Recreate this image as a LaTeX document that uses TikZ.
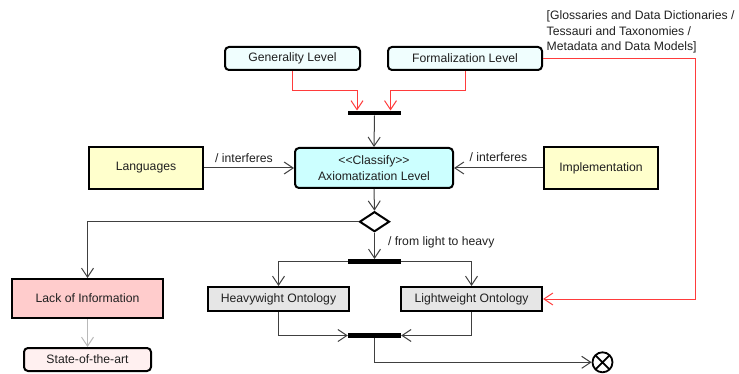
\documentclass[tikz,border=0pt]{standalone}
\usepackage{fontspec}
\setmainfont{Liberation Sans}[Ligatures=TeXOff]
\usetikzlibrary{arrows.meta,shapes.geometric}
\definecolor{txt}{HTML}{202020}
\definecolor{lnk}{HTML}{404040}
\definecolor{redl}{HTML}{FF3B3B}
\definecolor{cyanlt}{HTML}{F0FEFE}
\definecolor{cyanax}{HTML}{CCFFFF}
\definecolor{yel}{HTML}{FFFFCC}
\definecolor{pinka}{HTML}{FFCCCC}
\definecolor{pinkb}{HTML}{FFF0F0}
\definecolor{greyb}{HTML}{E6E6E6}
\begin{document}
\begin{tikzpicture}[x=1pt,y=-1pt,
  every node/.style={font=\fontsize{12.2}{15.5}\selectfont, text=txt, inner sep=0pt},
  rbox/.style={draw=black, line width=2pt, rounded corners=4pt, align=center},
  sbox/.style={draw=black, line width=2pt, align=center},
  bar/.style={fill=black, draw=none, minimum width=53pt, minimum height=4.6pt},
  flow/.style={draw=lnk, line width=1pt, -{Straight Barb[length=9pt,width=12pt,line width=1pt]}},
  redflow/.style={draw=redl, line width=1pt, -{Straight Barb[length=9pt,width=12pt,line width=1pt]}},
  lbl/.style={font=\fontsize{12.2}{14}\selectfont}
]
\useasboundingbox (0,0) rectangle (739,374);
% nodes
\node[rbox, fill=cyanlt, minimum width=135pt, minimum height=23pt] (gen) at (292.5,58.5) {Generality Level};
\node[rbox, fill=cyanlt, minimum width=154pt, minimum height=23pt] (form) at (465,58.5) {Formalization Level};
\node[bar] (bar1) at (374.5,113) {};
\node[rbox, fill=cyanax, minimum width=158pt, minimum height=40pt] (axio) at (374,168) {<<Classify>>\\Axiomatization Level};
\node[sbox, fill=yel, minimum width=114pt, minimum height=42pt] (lang) at (146,168) {Languages};
\node[sbox, fill=yel, minimum width=114pt, minimum height=42pt] (impl) at (601,168) {Implementation};
\node[draw=black, line width=2pt, shape=diamond, minimum width=30pt, minimum height=20pt, fill=white] (dec) at (374.5,221.7) {};
\node[bar] (bar2) at (374.5,261.5) {};
\node[sbox, fill=pinka, minimum width=151pt, minimum height=39pt] (lack) at (87.5,298.5) {Lack of Information};
\node[rbox, fill=pinkb, minimum width=127pt, minimum height=23pt] (state) at (87.5,359.5) {State-of-the-art};
\node[sbox, fill=greyb, minimum width=141pt, minimum height=24pt] (heavy) at (278.5,299) {Heavywight Ontology};
\node[sbox, fill=greyb, minimum width=141pt, minimum height=24pt] (light) at (471.5,299) {Lightweight Ontology};
\node[bar] (bar3) at (374.5,335.5) {};
\node[circle, draw=black, line width=1.8pt, minimum size=20pt,
  path picture={\draw[line width=1.8pt] (path picture bounding box.north west) -- (path picture bounding box.south east)
     (path picture bounding box.north east) -- (path picture bounding box.south west);}] (fin) at (602.5,362.3) {};
\node[anchor=north west, align=left, font=\fontsize{12.2}{15.5}\selectfont] (note) at (546.5,10.5) {[Glossaries and Data Dictionaries /\\Tessauri and Taxonomies /\\Metadata and Data Models]};
% helper coordinates
\coordinate (j1) at (0,91);
\coordinate (r1) at (695.7,0);
% connectors
\draw[redflow] (gen.south) -- (gen.south |- j1) -| ([xshift=-17.5pt]bar1.north);
\draw[redflow] (form.south) -- (form.south |- j1) -| ([xshift=16pt]bar1.north);
\draw[flow] (bar1.south) -- (axio.north);
\draw[flow] (lang.east) -- node[lbl, above=5pt, xshift=-5pt] {/ interferes} (axio.west);
\draw[flow] (impl.west) -- node[lbl, above=6pt] {/ interferes} (axio.east);
\draw[flow] (axio.south) -- (dec.north);
\draw[flow] (dec.west) -| (lack.north);
\draw[flow] (dec.south) -- node[lbl, right=13pt, yshift=4pt] {/ from light to heavy} (bar2.north);
\draw[flow] (bar2.west) -| (heavy.north);
\draw[flow] (bar2.east) -| (light.north);
\draw[flow] (heavy.south) |- (bar3.west);
\draw[flow] (light.south) |- (bar3.east);
\draw[flow] (bar3.south) |- (fin.west);
\draw[flow, draw=gray!55] (lack.south) -- (state.north);
\draw[redflow] (form.east) -| (r1 |- light.east) -- (light.east);
\end{tikzpicture}
\end{document}
